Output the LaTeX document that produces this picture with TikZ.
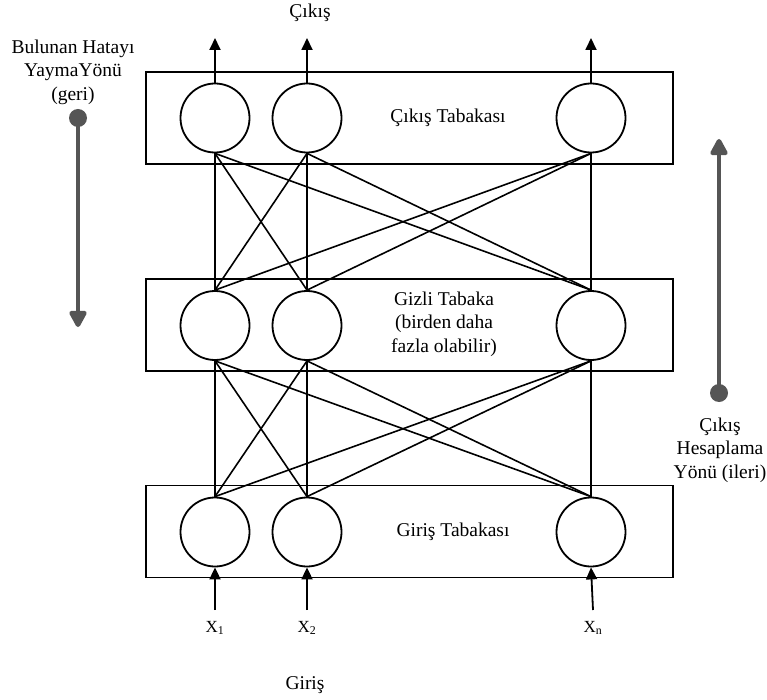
\documentclass[tikz,border=0pt]{standalone}
\usepackage{fontspec}
\setmainfont{Liberation Serif}
\usetikzlibrary{arrows.meta, positioning}
\definecolor{dirgray}{HTML}{555555}

\begin{document}
\begin{tikzpicture}[
  x=1pt, y=-1pt,
  line width=1.6pt,
  every node/.style={font=\fontsize{19.5}{23.5}\selectfont},
  layerbox/.style={rectangle, draw, line width=1.8pt, minimum width=527pt,
                   minimum height=92pt, inner sep=0pt},
  neuron/.style={circle, draw, line width=1.8pt, minimum size=69pt, inner sep=0pt},
  lbl/.style={align=center, inner sep=0pt},
  xlbl/.style={inner sep=0pt, font=\fontsize{17}{20}\selectfont},
  ioarrow/.style={-{Triangle[length=12pt, width=11pt]}, line width=1.8pt},
  dirarrow/.style={-{Triangle[length=19pt, width=19pt, round]}, line width=4.5pt, draw=dirgray},
  dirdot/.style={circle, fill=dirgray, minimum size=18pt, inner sep=0pt}
]
\useasboundingbox (0,0) rectangle (767,700);

% layers
\node[layerbox] (outbox) at (409.5,118) {};
\node[layerbox] (hidbox) at (409.5,325) {};
\node[layerbox] (inbox)  at (409.5,531.5) {};

\node[neuron] (o1) at (215,118) {};
\node[neuron] (o2) at (307,118) {};
\node[neuron] (o3) at (591,118) {};
\node[neuron] (h1) at (215,325.5) {};
\node[neuron] (h2) at (307,325.5) {};
\node[neuron] (h3) at (591,325.5) {};
\node[neuron] (i1) at (215,532) {};
\node[neuron] (i2) at (307,532) {};
\node[neuron] (i3) at (591,532) {};

\node[lbl] (outtxt) at (448,118) {Çıkış Tabakası};
\node[lbl] (hidtxt) at (444,324) {Gizli Tabaka\\(birden daha\\fazla olabilir)};
\node[lbl] (intxt)  at (453,532) {Giriş Tabakası};

% weights
\foreach \a in {1,2,3}
  \foreach \b in {1,2,3} {
    \draw (o\a.south) -- (h\b.north);
    \draw (h\a.south) -- (i\b.north);
  }

% outputs and inputs
\node[lbl] (outlbl) at (310,13) {Çıkış};
\coordinate (t1) at (215,38);
\coordinate (t2) at (307,38);
\coordinate (t3) at (591,38);
\draw[ioarrow] (o1.north) -- (t1);
\draw[ioarrow] (o2.north) -- (t2);
\draw[ioarrow] (o3.north) -- (t3);

\coordinate (s1) at (215,610);
\coordinate (s2) at (307,610);
\coordinate (s3) at (593,610);
\draw[ioarrow] (s1) -- (i1.south);
\draw[ioarrow] (s2) -- (i2.south);
\draw[ioarrow] (s3) -- (i3.south);
\node[xlbl] (x1) at (215,628) {X\textsubscript{1}};
\node[xlbl] (x2) at (307,628) {X\textsubscript{2}};
\node[xlbl] (xn) at (593,628) {X\textsubscript{n}};
\node[lbl] (inlbl) at (305,685) {Giriş};

% directions
\node[lbl] (backtxt) at (73,72) {Bulunan Hatayı\\YaymaYönü\\(geri)};
\node[dirdot] (backdot) at (78,118) {};
\coordinate (backtip) at (78,327);
\draw[dirarrow] (backdot.center) -- (backtip);

\node[dirdot] (fwddot) at (719,393) {};
\coordinate (fwdtip) at (719,139);
\draw[dirarrow] (fwddot.center) -- (fwdtip);
\node[lbl] (fwdtxt) at (720,450) {Çıkış\\Hesaplama\\Yönü (ileri)};
\end{tikzpicture}
\end{document}
